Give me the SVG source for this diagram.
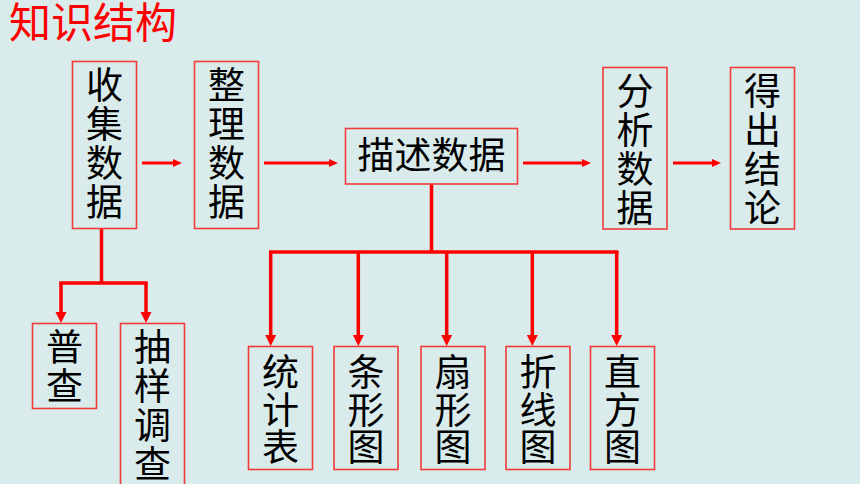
<svg xmlns="http://www.w3.org/2000/svg" width="860" height="484" viewBox="0 0 860 484">
<defs>
<style>
.bx{fill:none;stroke:#f23b3b;stroke-width:1.6}
.t{font-family:"Noto Sans CJK SC","Noto Sans CJK JP",sans-serif;font-size:37px;fill:#000;text-anchor:middle}
.v{font-family:"Noto Sans CJK SC","Noto Sans CJK JP",sans-serif;font-size:37px;fill:#000;writing-mode:vertical-rl;text-orientation:upright;letter-spacing:2px}
.v3{letter-spacing:0.5px}
.title{font-family:"Noto Sans CJK SC",sans-serif;font-size:42px;fill:#ff0000}
.ln{fill:none;stroke:#ff0000;stroke-width:3}
.tr{fill:none;stroke:#ff0000;stroke-width:3.5}
</style>
<marker id="ah" markerUnits="userSpaceOnUse" markerWidth="12" markerHeight="10" refX="1" refY="4" orient="auto" viewBox="0 0 12 8">
<path d="M0,0 L9,4 L0,8 z" fill="#ff0000"/>
</marker>
<marker id="ah2" markerUnits="userSpaceOnUse" markerWidth="14" markerHeight="12" refX="1" refY="5.5" orient="auto" viewBox="0 0 14 11">
<path d="M0,0 L11,5.5 L0,11 z" fill="#ff0000"/>
</marker>
</defs>
<rect width="860" height="484" fill="#daebec"/>
<text class="title" x="9" y="38">知识结构</text>

<g id="connectors">
<line class="ln" x1="142" y1="163" x2="174" y2="163" marker-end="url(#ah)"/>
<line class="ln" x1="264" y1="163" x2="330" y2="163" marker-end="url(#ah)"/>
<line class="ln" x1="523" y1="163" x2="583" y2="163" marker-end="url(#ah)"/>
<line class="ln" x1="673" y1="163" x2="713" y2="163" marker-end="url(#ah)"/>
<path class="tr" d="M101.5 229 V283 M59.3 283 H147.7"/>
<path class="tr" d="M61 283 V313" marker-end="url(#ah2)"/>
<path class="tr" d="M146 283 V313" marker-end="url(#ah2)"/>
<path class="tr" d="M431.5 184 V252 M269 252 H618.5"/>
<path class="tr" d="M270.7 252 V336" marker-end="url(#ah2)"/>
<path class="tr" d="M358.3 252 V336" marker-end="url(#ah2)"/>
<path class="tr" d="M446.7 252 V336" marker-end="url(#ah2)"/>
<path class="tr" d="M532.3 252 V336" marker-end="url(#ah2)"/>
<path class="tr" d="M616.7 252 V336" marker-end="url(#ah2)"/>
</g>

<g id="collect">
<rect class="bx" x="72.5" y="61.5" width="64" height="167"/>
<text class="v" x="104.5" y="66.5">收集数据</text>
</g>
<g id="organize">
<rect class="bx" x="194.5" y="61.5" width="64" height="167"/>
<text class="v" x="226.5" y="66.5">整理数据</text>
</g>
<g id="describe">
<rect class="bx" x="345.5" y="128.5" width="172" height="55.5"/>
<text class="t" x="431.5" y="169">描述数据</text>
</g>
<g id="analyze">
<rect class="bx" x="603" y="67.5" width="64" height="161.5"/>
<text class="v" x="635" y="72.5">分析数据</text>
</g>
<g id="conclude">
<rect class="bx" x="730.5" y="67.5" width="64" height="161.5"/>
<text class="v" x="762.5" y="72.5">得出结论</text>
</g>
<g id="census">
<rect class="bx" x="32.5" y="323.5" width="64" height="85"/>
<text class="v" x="64.5" y="328.5">普查</text>
</g>
<g id="sampling">
<rect class="bx" x="120.5" y="323.5" width="64" height="170"/>
<text class="v" x="152.5" y="328.5">抽样调查</text>
</g>
<g id="table">
<rect class="bx" x="248.5" y="346.5" width="64" height="123"/>
<text class="v v3" x="280.5" y="353.5">统计表</text>
</g>
<g id="bar">
<rect class="bx" x="334" y="346.5" width="64" height="123"/>
<text class="v v3" x="366" y="353.5">条形图</text>
</g>
<g id="pie">
<rect class="bx" x="421" y="346.5" width="64" height="123"/>
<text class="v v3" x="453" y="353.5">扇形图</text>
</g>
<g id="line">
<rect class="bx" x="506" y="346.5" width="64" height="123"/>
<text class="v v3" x="538" y="353.5">折线图</text>
</g>
<g id="histogram">
<rect class="bx" x="590.5" y="346.5" width="64" height="123"/>
<text class="v v3" x="622.5" y="353.5">直方图</text>
</g>
</svg>
